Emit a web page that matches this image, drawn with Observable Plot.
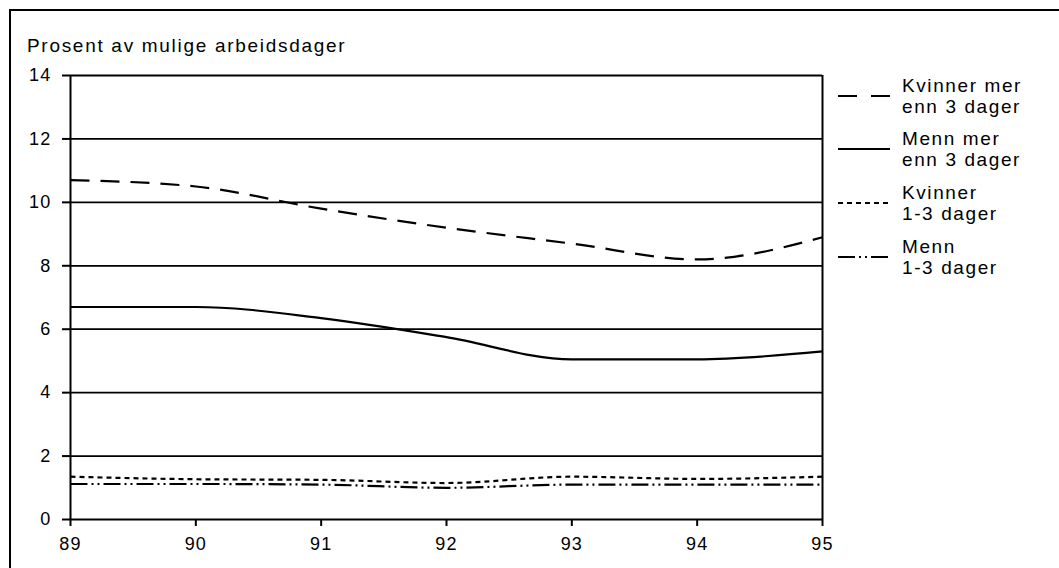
<!DOCTYPE html>
<html>
<head>
<meta charset="utf-8">
<script src="https://cdn.jsdelivr.net/npm/d3@7"></script>
<script src="https://cdn.jsdelivr.net/npm/@observablehq/plot@0.6"></script>
<style>
  html, body { margin: 0; padding: 0; background: #fff; }
  #wrap { position: relative; width: 1059px; height: 568px; overflow: hidden; font-family: "Liberation Sans", sans-serif; }
  #border { position: absolute; left: 9px; top: 9px; width: 1100px; height: 600px; border-left: 2px solid #000; border-top: 2px solid #000; }
  #title { position: absolute; left: 27px; top: 36px; font-size: 19px; letter-spacing: 1.7px; color: #000; line-height: 20px; }
  .leg { position: absolute; left: 838px; width: 220px; height: 50px; }
  .leg svg { position: absolute; left: 0; top: 0; }
  .leg .t { position: absolute; left: 64px; font-size: 19px; letter-spacing: 1.6px; line-height: 21px; color: #000; white-space: nowrap; }
  #chart { position: absolute; left: 0; top: 0; }
</style>
</head>
<body>
<div id="wrap">
  <div id="chart"></div>
  <div id="border"></div>
  <div id="title">Prosent av mulige arbeidsdager</div>
  <div id="legend"></div>
</div>
<script>
const years = [89, 90, 91, 92, 93, 94, 95];
const yTicks = [0, 2, 4, 6, 8, 10, 12, 14];
const seriesNames = ["Kvinner mer enn 3 dager", "Menn mer enn 3 dager", "Kvinner 1-3 dager", "Menn 1-3 dager"];
const legendLines = [["Kvinner mer", "enn 3 dager"], ["Menn mer", "enn 3 dager"], ["Kvinner", "1-3 dager"], ["Menn", "1-3 dager"]];
const kvinnerMer = [10.7, 10.5, 9.8, 9.2, 8.7, 8.2, 8.9];
const mennMer = [6.7, 6.7, 6.35, 5.75, 5.05, 5.05, 5.3];
const kvinner13 = [1.35, 1.27, 1.25, 1.15, 1.35, 1.28, 1.35];
const menn13 = [1.12, 1.12, 1.1, 1.0, 1.1, 1.1, 1.1];
const dashes = ["19,11", null, "5,4", "17,4,2,4,2,4"];

const allSeries = [kvinnerMer, mennMer, kvinner13, menn13];
const data = [];
allSeries.forEach((vals, i) => vals.forEach((v, j) => data.push({series: seriesNames[i], year: years[j], value: v})));

const lineMarks = seriesNames.map((name, i) => Plot.line(data.filter(d => d.series === name), {
  x: "year", y: "value", stroke: "#000", strokeWidth: 2.2,
  strokeDasharray: dashes[i] || undefined, curve: "monotone-x", strokeLinecap: "butt"
}));

const chart = Plot.plot({
  width: 1059, height: 568,
  marginLeft: 70, marginRight: 237, marginTop: 75, marginBottom: 49,
  style: {fontFamily: '"Liberation Sans", sans-serif', background: "transparent", color: "#000"},
  x: {domain: [89, 95]},
  y: {domain: [0, 14]},
  marks: [
    Plot.ruleY(yTicks, {stroke: "#000", strokeWidth: 1.8}),
    Plot.ruleX([89, 95], {stroke: "#000", strokeWidth: 2}),
    Plot.axisY({ticks: yTicks, tickSize: 8, tickPadding: 11, fontSize: 18, stroke: "#000", strokeWidth: 2, strokeOpacity: 1, label: null, tickFormat: d => String(d)}),
    Plot.axisX({ticks: years, tickSize: 7, tickPadding: 11, fontSize: 18, stroke: "#000", strokeWidth: 2, strokeOpacity: 1, label: null, tickFormat: d => String(d)}),
    ...lineMarks
  ]
});
chart.querySelectorAll("text").forEach(t => t.setAttribute("letter-spacing", "1.2"));
document.getElementById("chart").appendChild(chart);

const legendTops = [96, 149, 203, 257];
const legend = document.getElementById("legend");
seriesNames.forEach((name, i) => {
  const div = document.createElement("div");
  div.className = "leg";
  div.style.top = (legendTops[i] - 25) + "px";
  const dash = dashes[i] ? ` stroke-dasharray="${dashes[i] === "19,11" ? "19,14" : dashes[i]}"` : "";
  div.innerHTML = `<svg width="54" height="50"><line x1="0" x2="52" y1="25" y2="25" stroke="#000" stroke-width="2.2"${dash}/></svg>` +
    `<div class="t" style="top:4px">${legendLines[i][0]}</div><div class="t" style="top:25px">${legendLines[i][1]}</div>`;
  legend.appendChild(div);
});
</script>
</body>
</html>
